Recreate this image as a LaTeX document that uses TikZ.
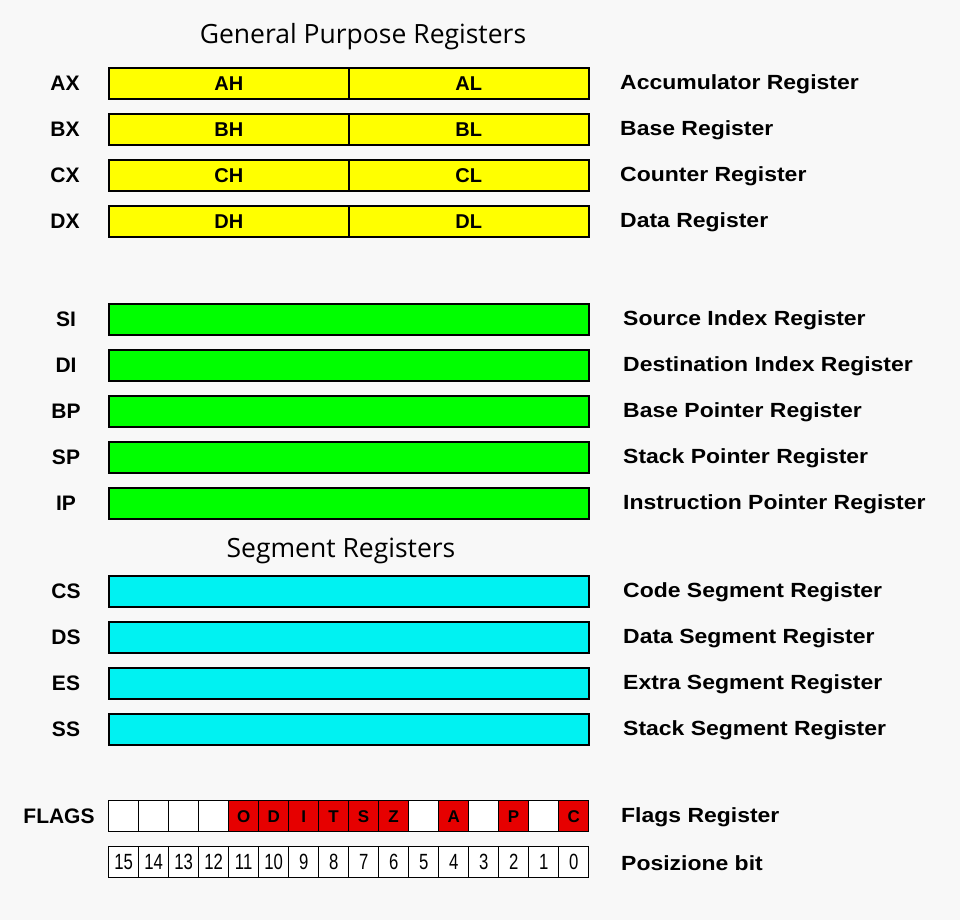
\documentclass[tikz,border=0pt]{standalone}
\usepackage{fontspec}
\setmainfont{Liberation Sans}
\newfontfamily\titlefont{Open Sans}
\newfontfamily\descfont[FakeStretch=1.12]{Liberation Sans}
\definecolor{bgc}{HTML}{F8F8F8}
\definecolor{ylw}{HTML}{FFFF00}
\definecolor{grn}{HTML}{00FF00}
\definecolor{cyn}{HTML}{00F2F2}
\definecolor{rd}{HTML}{E60000}
\begin{document}
\begin{tikzpicture}[x=1pt,y=-1pt,
  reglab/.style={font=\bfseries\fontsize{21}{21}\selectfont, anchor=center},
  desc/.style={font=\descfont\bfseries\fontsize{20.5}{21}\selectfont, anchor=west, inner sep=0pt},
  inlab/.style={font=\bfseries\fontsize{20}{20}\selectfont},
  title/.style={font=\titlefont\fontsize{26.5}{26.5}\selectfont},
  regbox/.style={draw=black, line width=1.6pt, minimum height=31pt, inner sep=0pt, anchor=north west},
  flagcell/.style={draw=black, line width=1.3pt, minimum width=30pt, minimum height=31pt, inner sep=0pt, anchor=north west, font=\bfseries\fontsize{17}{17}\selectfont},
  bitcell/.style={draw=black, line width=1.3pt, fill=white, minimum width=30pt, minimum height=31pt, inner sep=0pt, anchor=north west, font=\fontsize{22}{22}\selectfont}]
\fill[bgc] (0,0) rectangle (960,920);
\useasboundingbox (0,0) rectangle (960,920);

\node[title] (t1) at (363,37) {General Purpose Registers};
\node[title] (t2) at (341,551) {Segment Registers};

% General purpose registers
\foreach \r/\y/\d in {A/67/Accumulator Register, B/113/Base Register, C/159/Counter Register, D/205/Data Register}{
  \node[regbox, fill=ylw, minimum width=240pt] (\r H) at (108,\y) {};
  \node[regbox, fill=ylw, minimum width=240pt] (\r L) at (348,\y) {};
  \node[inlab] (\r Ht) at (\r H.center) {\r H};
  \node[inlab] (\r Lt) at (\r L.center) {\r L};
  \node[reglab] (\r X) at (65,\y+16) {\r X};
  \node[desc] (\r D) at (620,\y+17) {\d};
}

% Index / pointer registers
\foreach \r/\y/\d in {SI/303/Source Index Register, DI/349/Destination Index Register, BP/395/Base Pointer Register, SP/441/Stack Pointer Register, IP/487/Instruction Pointer Register}{
  \node[regbox, fill=grn, minimum width=480pt] (\r box) at (108,\y) {};
  \node[reglab] (\r) at (66,\y+16) {\r};
  \node[desc] (\r D) at (623,\y+17) {\d};
}

% Segment registers
\foreach \r/\y/\d in {CS/575/Code Segment Register, DS/621/Data Segment Register, ES/667/Extra Segment Register, SS/713/Stack Segment Register}{
  \node[regbox, fill=cyn, minimum width=480pt] (\r box) at (108,\y) {};
  \node[reglab] (\r) at (66,\y+16) {\r};
  \node[desc] (\r D) at (623,\y+17) {\d};
}

% Flags
\node[reglab] (flags) at (59,816) {FLAGS};
\foreach \i/\l/\c in {0//white,1//white,2//white,3//white,4/O/rd,5/D/rd,6/I/rd,7/T/rd,8/S/rd,9/Z/rd,10//white,11/A/rd,12//white,13/P/rd,14//white,15/C/rd}{
  \node[flagcell, fill=\c] (f\i) at (108+30*\i,800) {\l};
}
\foreach \i/\n in {0/15,1/14,2/13,3/12,4/11,5/10,6/9,7/8,8/7,9/6,10/5,11/4,12/3,13/2,14/1,15/0}{
  \node[bitcell] (b\i) at (108+30*\i,846) {\scalebox{0.76}[1]{\n}};
}
\node[desc] (flagsD) at (621,817) {Flags Register};
\node[desc] (posD) at (621,863) {Posizione bit};
\end{tikzpicture}
\end{document}
